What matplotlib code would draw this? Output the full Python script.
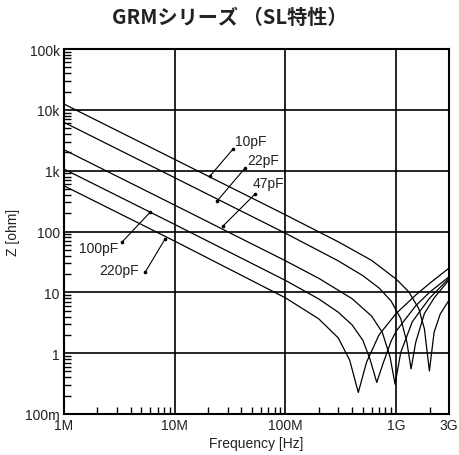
import matplotlib
matplotlib.use("Agg")
import matplotlib.pyplot as plt
from matplotlib.ticker import FixedLocator, LogLocator, NullFormatter

plt.rcParams['font.family'] = ['Liberation Sans', 'Noto Sans CJK JP', 'DejaVu Sans']

title = "GRMシリーズ （SL特性）"
x_label = "Frequency [Hz]"
y_label = "Z [ohm]"

x_ticks = [1e6, 1e7, 1e8, 1e9, 3e9]
x_tick_labels = ["1M", "10M", "100M", "1G", "3G"]
y_ticks = [0.1, 1, 10, 100, 1e3, 1e4, 1e5]
y_tick_labels = ["100m", "1", "10", "100", "1k", "10k", "100k"]

# frequency [MHz] / impedance [ohm]
f_10pF = [1, 10, 100, 300, 600, 1000, 1300, 1600, 1800, 1995, 2200, 2500, 3000]
z_10pF = [12450, 1531, 188, 67.7, 33.5, 16.5, 10.2, 5.4, 2.5, 0.51, 2.2, 4.4, 7.4]

f_22pF = [1, 10, 100, 300, 500, 700, 900, 1100, 1250, 1363, 1500, 1800, 2200, 3000]
z_22pF = [6230, 766, 93.6, 32.9, 18.8, 11.8, 7.19, 3.7, 1.51, 0.55, 1.5, 4.5, 8.07, 16.0]

f_47pF = [1, 10, 100, 200, 400, 600, 750, 880, 977, 1100, 1400, 2000, 3000]
z_47pF = [2207, 271.3, 33.0, 17.0, 7.86, 4.07, 2.19, 0.87, 0.31, 1.03, 3.3, 8.0, 17.0]

f_100pF = [1, 10, 100, 200, 300, 400, 500, 580, 668, 760, 900, 1000, 1500, 2000, 3000]
z_100pF = [1062, 130.6, 15.7, 7.78, 4.71, 2.91, 1.63, 0.80, 0.33, 0.67, 1.58, 2.3, 6.0, 10.0, 18.0]

f_220pF = [1, 10, 100, 200, 300, 380, 455, 540, 700, 1000, 1500, 2000, 3000]
z_220pF = [564, 69.4, 8.12, 3.66, 1.78, 0.77, 0.226, 0.71, 2.0, 4.5, 9.0, 14.0, 25.0]

series = [("10pF", f_10pF, z_10pF), ("22pF", f_22pF, z_22pF), ("47pF", f_47pF, z_47pF),
          ("100pF", f_100pF, z_100pF), ("220pF", f_220pF, z_220pF)]

# label text position, leader start and leader end, in data units (Hz, ohm)
labels = {
    "10pF":  dict(text=(4.89e7, 3070), start=(2.08e7, 815), end=(3.36e7, 2265)),
    "22pF":  dict(text=(6.28e7, 1494), start=(2.41e7, 316), end=(4.32e7, 1104)),
    "47pF":  dict(text=(6.96e7, 625), start=(2.73e7, 123), end=(5.31e7, 412)),
    "100pF": dict(text=(2.07e6, 53.3), start=(5.98e6, 206), end=(3.32e6, 66.2)),
    "220pF": dict(text=(3.14e6, 23.2), start=(8.17e6, 75), end=(5.39e6, 21.2)),
}

fig = plt.figure(figsize=(4.59, 4.56), dpi=100)
ax = fig.add_axes([64/459, 1-415/456, (449-64)/459, (415-50)/456])

for name, f, z in series:
    ax.plot([v*1e6 for v in f], z, color='black', lw=0.9)

ax.set_xscale('log')
ax.set_yscale('log')
ax.set_xlim(1e6, 3e9)
ax.set_ylim(0.1, 1e5)

ax.xaxis.set_major_locator(FixedLocator(x_ticks))
ax.set_xticklabels(x_tick_labels)
ax.yaxis.set_major_locator(FixedLocator(y_ticks))
ax.set_yticklabels(y_tick_labels)
ax.xaxis.set_minor_locator(LogLocator(base=10, subs=range(2, 10), numticks=20))
ax.yaxis.set_minor_locator(LogLocator(base=10, subs=range(2, 10), numticks=20))
ax.xaxis.set_minor_formatter(NullFormatter())
ax.yaxis.set_minor_formatter(NullFormatter())

ax.tick_params(which='major', length=0, labelsize=10, pad=3, colors='#222222')
ax.tick_params(which='minor', direction='in', length=5, width=1.0, color='black')
ax.tick_params(which='both', top=False, right=False)

ax.grid(True, which='major', color='black', lw=1.2)
for sp in ax.spines.values():
    sp.set_linewidth(1.5)

ax.set_xlabel(x_label, fontsize=10, labelpad=3, color='#222222')
ax.set_ylabel(y_label, fontsize=10, color='#222222')
ax.yaxis.set_label_coords(-0.114, 0.5)

for name, d in labels.items():
    ax.text(d['text'][0], d['text'][1], name, fontsize=10, ha='center', va='center', color='#222222')
    ax.plot([d['start'][0], d['end'][0]], [d['start'][1], d['end'][1]], color='black', lw=0.8)
    ax.plot([d['start'][0], d['end'][0]], [d['start'][1], d['end'][1]], 'o', color='black', ms=1.6)

fig.text(0.5, 1-17/456, title, ha='center', va='center', fontsize=14.5, fontweight='bold',
         family=['Noto Sans CJK JP'], color='#222222')

fig.savefig('out.png', dpi=100)
